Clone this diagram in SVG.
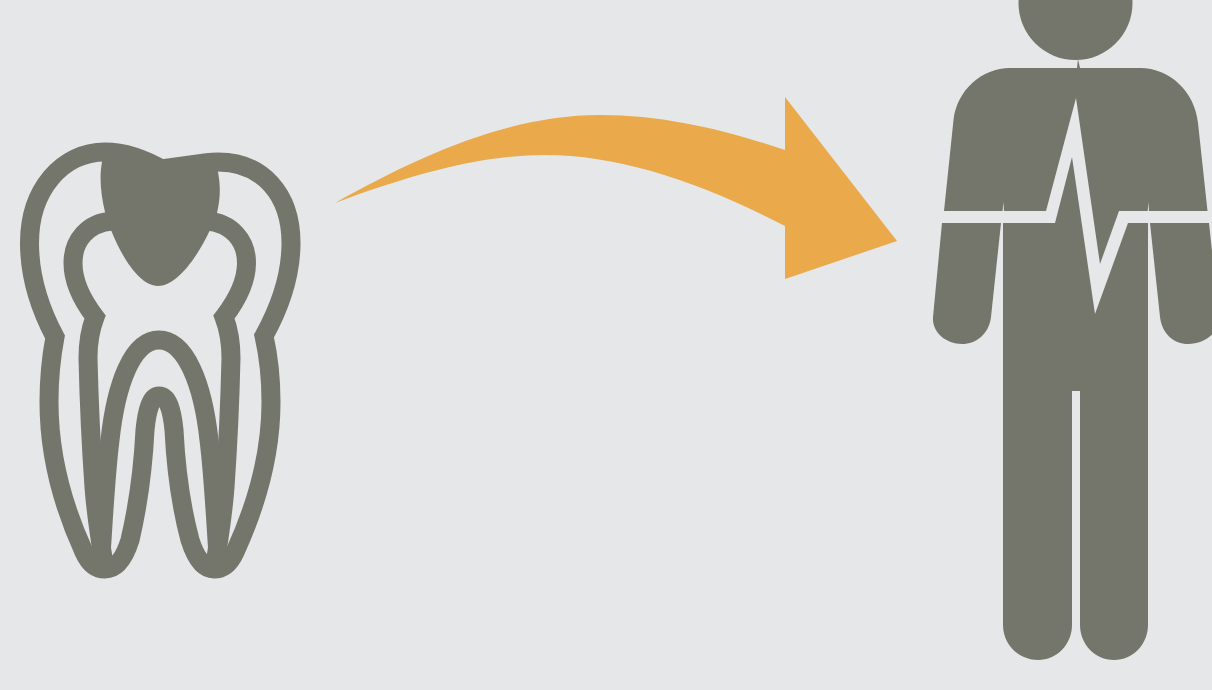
<svg xmlns="http://www.w3.org/2000/svg" width="1212" height="690" viewBox="0 0 1212 690">
<style>
.fill{fill:#74756b}
.line{fill:none;stroke:#74756b;stroke-width:19;stroke-linejoin:miter;stroke-miterlimit:6}
</style>
<rect width="1212" height="690" fill="#e6e7e9"/>
<g id="tooth">
<path class="line" d="M165,168.500 L205,163 C211,162.300 214,162 218,162 C262,162 291,194 291,243 C291,277 280,307 264,336 C269,358 271,378 271,402 C271,452 257,504 235,552 C230,563 224,569 214,569 C203,569 195,556 190,540 C182,510 176,470 174,430 C172,410 168,396 159,396 C151,396 147,410 145,430 C143,470 137,510 130,540 C125,556 117,569 105,569 C95,569 89,563 84,552 C62,504 49,452 49,402 C49,378 51,358 55,337 C39,307 29.500,277 29.500,243 C29.500,190 62,152 105,152 C125,152 143,158 165,171"/>
<path class="line" d="M112,221 C88,223 73,240 73,263 C73,282 82,300 95,317 C90,330 88,342 88,358 C89,400 91,445 94,487 C96,515 100,540 105,570"/>
<path class="line" d="M207,221 C231,223 246.500,240 246.500,263 C246.500,282 237,300 224,317 C229,330 231,342 231,358 C230,400 228,445 225,487 C223,515 219,540 214,570"/>
<path class="line" d="M100,569 C103,530 105,480 110,440 C116,385 132,340 159,340 C186,340 203,385 209,440 C214,480 216,530 219,569"/>
<path id="crown" class="fill" d="M102,150 L163,159 L218,160 L218,172 C221,188 220,200 217,213 C214,226 212,226 210,230 C195,262 175,286 158,286 C140,286 122,258 111,230 L105,212 C101,195 99,178 102,162 Z"/>
</g>
<g id="connectors">
<path id="arrow" fill="#eaa94a" d="M335,203 C420,155 510,115 600,115 C665,115 725,130 785,150 L785,97 L897,241 L785,279 L785,226 C700,182 620,155 545,155 C480,155 410,175 335,203 Z"/>
</g>
<g id="person" class="fill">
<circle cx="1075.500" cy="3" r="57"/>
<path d="M1078,59 L1080,68 L1077,68 Z"/>
<path d="M1010,68 L1140,68 C1170,68 1195,92 1198,123 L1207.500,211 L1149,211 L1148.300,202 L1147.700,211 L1119,211 L1100,264 L1076,98 L1046,211 L1004,211 L1003.300,202 L1002.600,211 L944,211 L953.500,120 C957,90 982,68 1010,68 Z"/>
<path d="M942,223 L1001,223 L991,317 C989,334 976,344 962,344 C945,344 932,332 933,317 Z"/>
<path d="M1150,223 L1209,223 L1219,317 C1220,332 1205,344 1188,344 C1174,344 1162,334 1160,317 Z"/>
<path d="M1003,223 L1055,223 L1072,157 L1095,314 L1128,223 L1148,223 L1148,625 C1148,644 1133,660 1114,660 C1095,660 1080,644 1080,625 L1080,391 L1072,391 L1072,625 C1072,644 1057,660 1038,660 C1018,660 1003,644 1003,625 Z"/>
</g>
</svg>
